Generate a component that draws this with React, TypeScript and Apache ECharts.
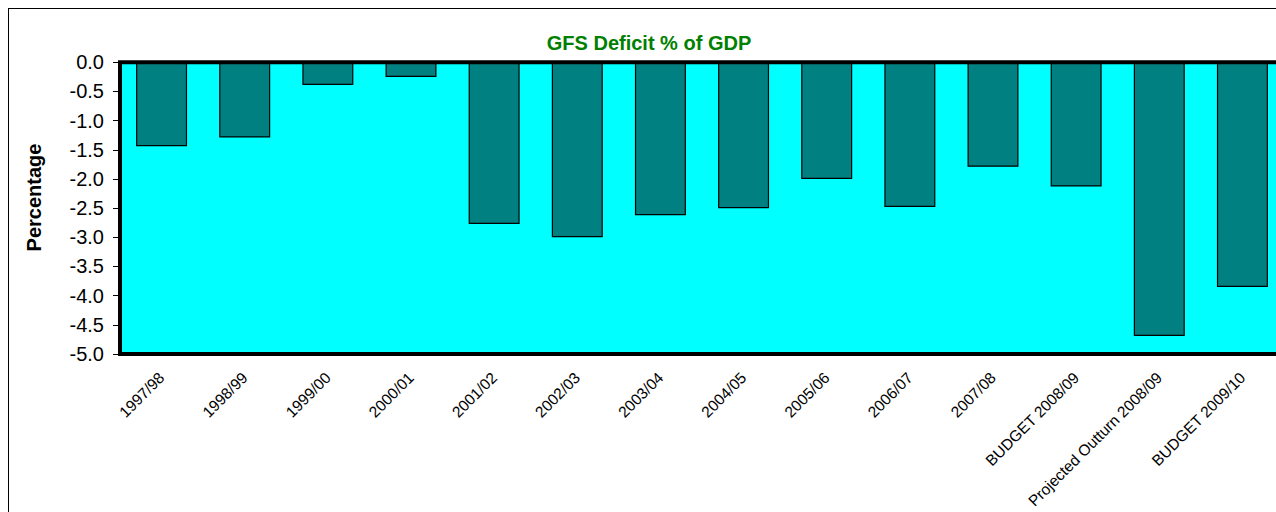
import React, { useEffect, useRef } from "react";
import * as echarts from "echarts";

const categories = [
  "1997/98",
  "1998/99",
  "1999/00",
  "2000/01",
  "2001/02",
  "2002/03",
  "2003/04",
  "2004/05",
  "2005/06",
  "2006/07",
  "2007/08",
  "BUDGET 2008/09",
  "Projected Outturn 2008/09",
  "BUDGET 2009/10",
];

const deficit = [-1.44, -1.29, -0.39, -0.25, -2.77, -3.0, -2.62, -2.5, -2.0, -2.48, -1.79, -2.13, -4.69, -3.85];

const yMin = -5;
const yMax = 0;
const yStep = 0.5;

const titleText = "GFS Deficit % of GDP";
const yName = "Percentage";

const FONT = "'Liberation Sans', Arial, Helvetica, sans-serif";

export default function App() {
  const ref = useRef<HTMLDivElement>(null);

  useEffect(() => {
    document.documentElement.style.overflow = "hidden";
    document.body.style.marginRight = "0px";
    if (!ref.current) return;
    const chart = echarts.init(ref.current, undefined, { renderer: "svg" });

    const gLeft = 112;
    const gTop = 55.3;
    const gWidth = 1164;
    const gHeight = 291.7;

    chart.setOption({
      animation: false,
      grid: {
        left: gLeft,
        top: gTop,
        width: gWidth,
        height: gHeight,
        show: true,
        backgroundColor: "#00FFFF",
        borderWidth: 0,
      },
      graphic: [
        {
          type: "rect",
          shape: { x: gLeft, y: gTop, width: gWidth, height: gHeight },
          style: { fill: "none", stroke: "#000", lineWidth: 4 },
          z: 100,
          silent: true,
        },
        {
          type: "text",
          x: 641,
          y: 36,
          style: {
            text: titleText,
            fill: "#008000",
            font: `bold 20px ${FONT}`,
            textAlign: "center",
            textVerticalAlign: "middle",
          },
        },
        {
          type: "text",
          x: 26,
          y: 190.5,
          rotation: Math.PI / 2,
          style: {
            text: yName,
            fill: "#000",
            font: `bold 20px ${FONT}`,
            textAlign: "center",
            textVerticalAlign: "middle",
          },
        },
      ],
      xAxis: {
        type: "category",
        data: categories,
        position: "bottom",
        axisLine: { show: false },
        axisTick: { show: false },
        axisLabel: {
          rotate: 45,
          fontSize: 15.5,
          fontFamily: FONT,
          color: "#000",
          margin: 21,
          interval: 0,
        },
      },
      yAxis: {
        type: "value",
        min: yMin,
        max: yMax,
        interval: yStep,
        axisLine: { show: false },
        axisTick: { show: true, length: 7, lineStyle: { color: "#000", width: 1 } },
        splitLine: { show: false },
        axisLabel: {
          fontSize: 20,
          fontFamily: FONT,
          color: "#000",
          margin: 16,
          formatter: (v: number) => v.toFixed(1),
        },
      },
      series: [
        {
          type: "bar",
          data: deficit,
          barWidth: 51,
          itemStyle: { color: "#008080", borderColor: "#000", borderWidth: 1.2 },
        },
      ],
    });

    return () => {
      chart.dispose();
    };
  }, []);

  return (
    <div
      style={{
        width: 1267,
        height: 503,
        overflow: "hidden",
        position: "relative",
        borderTop: "1px solid #000",
        borderLeft: "1px solid #000",
      }}
    >
      <div ref={ref} style={{ position: "absolute", left: -1, top: -2, width: 1290, height: 520 }} />
    </div>
  );
}
